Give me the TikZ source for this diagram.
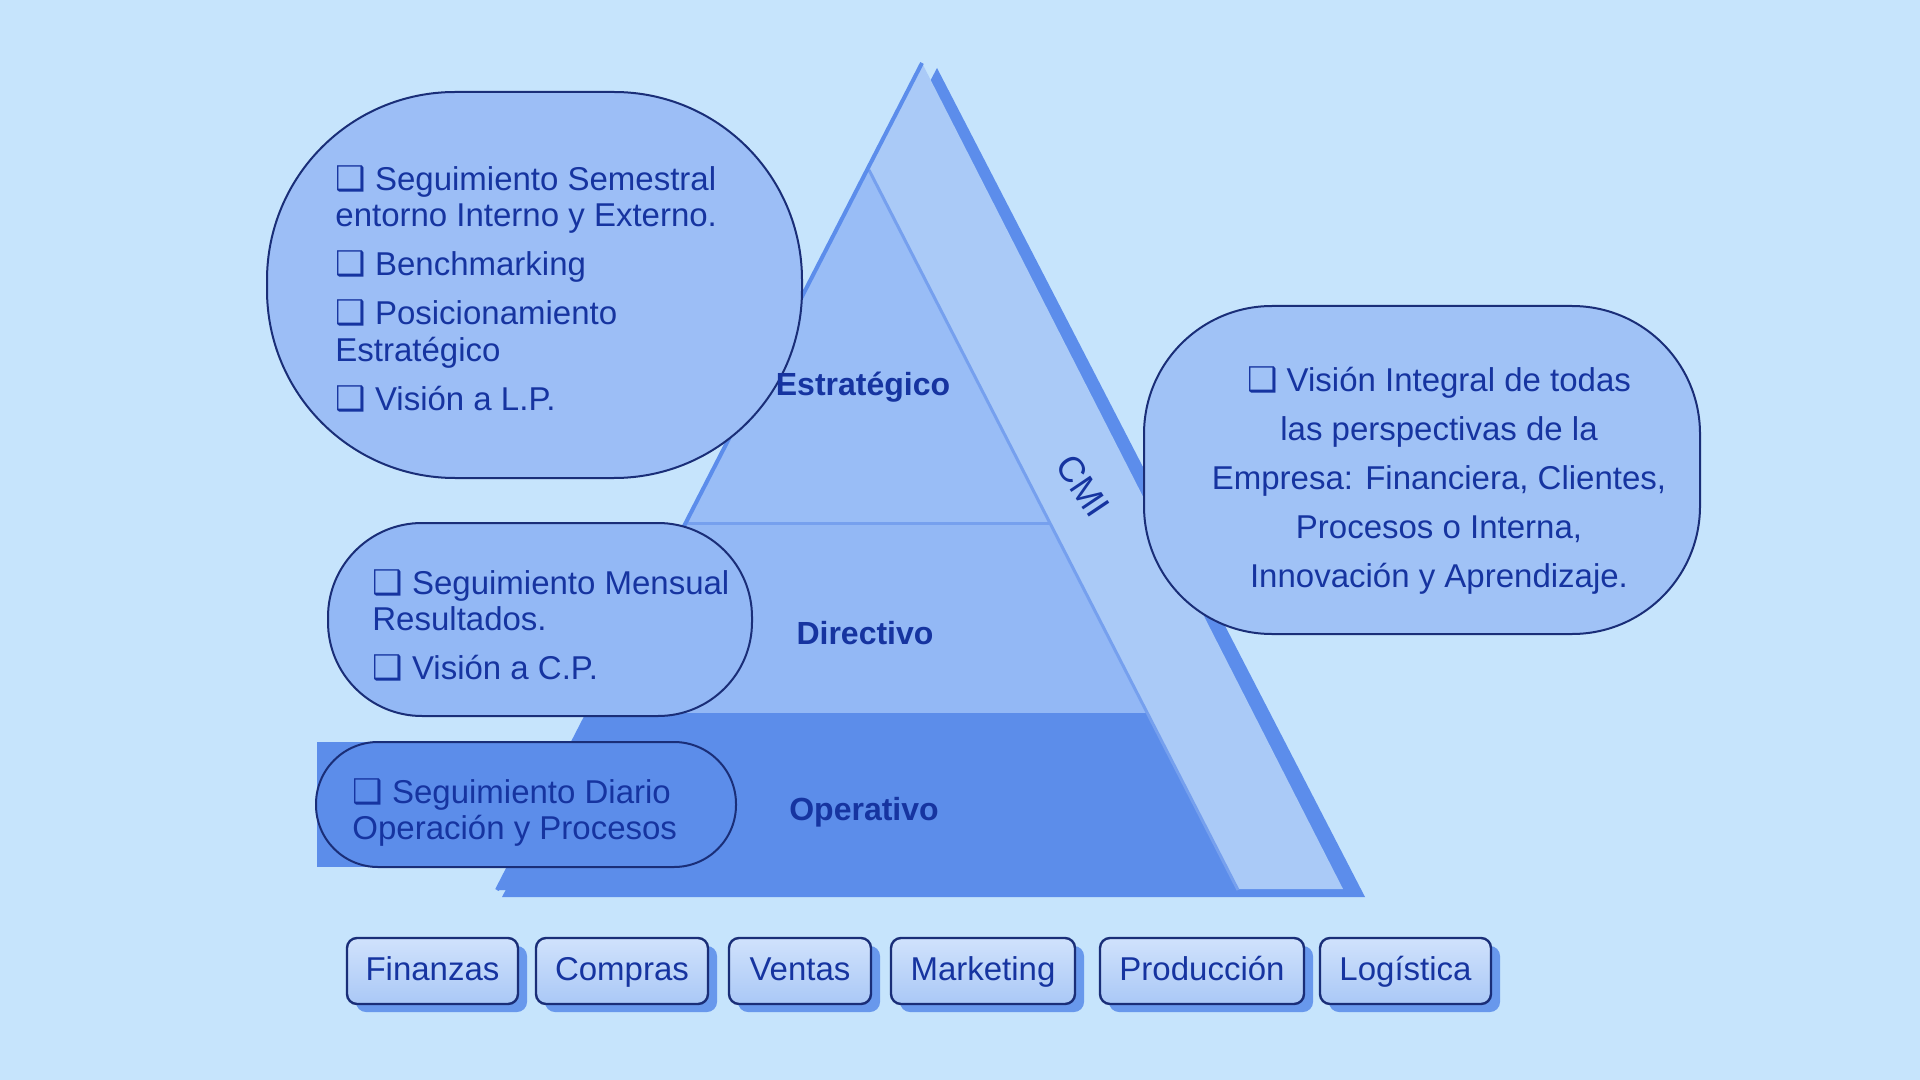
\documentclass[tikz,border=0pt]{standalone}
\usepackage{fontspec}
\setmainfont{Liberation Sans}
\newfontfamily\symf{DejaVu Sans}
\usetikzlibrary{shadows}
\definecolor{bg}{RGB}{198,228,252}
\definecolor{tri}{RGB}{170,202,247}
\definecolor{edgec}{RGB}{92,141,235}
\definecolor{est}{RGB}{153,189,246}
\definecolor{dirc}{RGB}{147,184,245}
\definecolor{ope}{RGB}{92,141,234}
\definecolor{ink}{RGB}{22,52,160}
\definecolor{navy}{RGB}{26,46,120}
\definecolor{bandline}{RGB}{118,160,238}
\definecolor{boxfill}{RGB}{156,190,246}
\definecolor{rboxfill}{RGB}{160,194,246}
\definecolor{btntop}{RGB}{208,226,252}
\definecolor{btnbot}{RGB}{170,200,246}
\definecolor{shadowc}{RGB}{104,152,236}
\newcommand\chkbox{{\symf\fontsize{17}{17}\selectfont ❑}\ }
\tikzset{
  bubble/.style={draw=navy, line width=1pt, inner sep=0pt},
  txt/.style={inner sep=0pt, text=ink, align=left, font=\fontsize{16.5}{18.3}\selectfont},
  rtxt/.style={inner sep=0pt, text=ink, align=center, font=\fontsize{16.5}{24.5}\selectfont},
  lab/.style={inner sep=0pt, text=ink, font=\bfseries\fontsize{16}{16}\selectfont},
  btn/.style={draw=navy, line width=1.2pt, rounded corners=5pt, top color=btntop, bottom color=btnbot,
    minimum height=33pt, inner sep=0pt, text height=12pt, text depth=3pt, text=ink, font=\fontsize{16.5}{16.5}\selectfont,
    drop shadow={shadow xshift=4.5pt, shadow yshift=-4pt, fill=shadowc, opacity=1}},
}
\begin{document}
\begin{tikzpicture}[x=0.5pt,y=-0.5pt]
\useasboundingbox (0,0) rectangle (1920,1080);
\fill[bg] (0,0) rectangle (1920,1080);
% pyramid shadow and CMI layer
\fill[edgec] (937,68) -- (502,897) -- (1365,897) -- cycle;
\fill[tri] (922,63) -- (497,890) -- (1343,889) -- cycle;
% bands
\fill[est] (869,170) -- (686,523) -- (1050,523) -- cycle;
\fill[dirc] (686,523) -- (588,713) -- (1147,713) -- (1050,523) -- cycle;
\fill[ope] (588,713) -- (497,890) -- (1238,890) -- (1147,713) -- cycle;
\draw[bandline, line width=1.5pt] (869,170) -- (1238,890);
\draw[bandline, line width=1.5pt] (686,523) -- (1050,523);
\draw[edgec, line width=2pt, line join=round] (922,63) -- (497,890);
% operativo strip
\fill[ope] (317,742) rectangle (620,867);
% bubbles
\node[bubble, fill=boxfill, rounded corners=94pt, minimum width=267.5pt, minimum height=193pt] (b1) at (534.5,285) {};
\node[bubble, fill=dirc, rounded corners=47pt, minimum width=212pt, minimum height=96.5pt] (b2) at (540,619.5) {};
\node[bubble, fill=ope, rounded corners=31pt, minimum width=210pt, minimum height=62.5pt] (b3) at (526,804.5) {};
\node[bubble, fill=rboxfill, rounded corners=64pt, minimum width=278pt, minimum height=164pt] (b4) at (1422,470) {};
% texts
\node[txt, anchor=north west] (t1) at (335,165) {\chkbox Seguimiento Semestral\\ entorno Interno y Externo.\\[6.2pt] \chkbox Benchmarking\\[6.2pt] \chkbox Posicionamiento\\ Estratégico\\[6.2pt] \chkbox Visión a L.P.};
\node[txt, anchor=north west] (t2) at (372,569) {\chkbox Seguimiento Mensual\\ Resultados.\\[6.2pt] \chkbox Visión a C.P.};
\node[txt, anchor=north west] (t3) at (352,778) {\chkbox Seguimiento Diario\\ Operación y Procesos};
\node[rtxt, anchor=north] (t4) at (1439,366) {\chkbox Visión Integral de todas\\ las perspectivas de la\\ Empresa: Financiera, Clientes,\\ Procesos o Interna,\\ Innovación y Aprendizaje.};
% level labels
\node[lab] (les) at (863,387) {Estratégico};
\node[lab] (ldi) at (865,633) {Directivo};
\node[lab] (lop) at (864,812) {Operativo};
\node[inner sep=0pt, text=ink, font=\fontsize{18}{18}\selectfont, rotate=-56] (cmi) at (1083,486) {CMI};
% buttons
\node[btn, minimum width=85.5pt] (f1) at (432.5,971) {Finanzas};
\node[btn, minimum width=86pt] (f2) at (622,971) {Compras};
\node[btn, minimum width=71pt] (f3) at (800,971) {Ventas};
\node[btn, minimum width=92pt] (f4) at (983,971) {Marketing};
\node[btn, minimum width=102pt] (f5) at (1202,971) {Producción};
\node[btn, minimum width=85.5pt] (f6) at (1405.5,971) {Logística};
\end{tikzpicture}
\end{document}
